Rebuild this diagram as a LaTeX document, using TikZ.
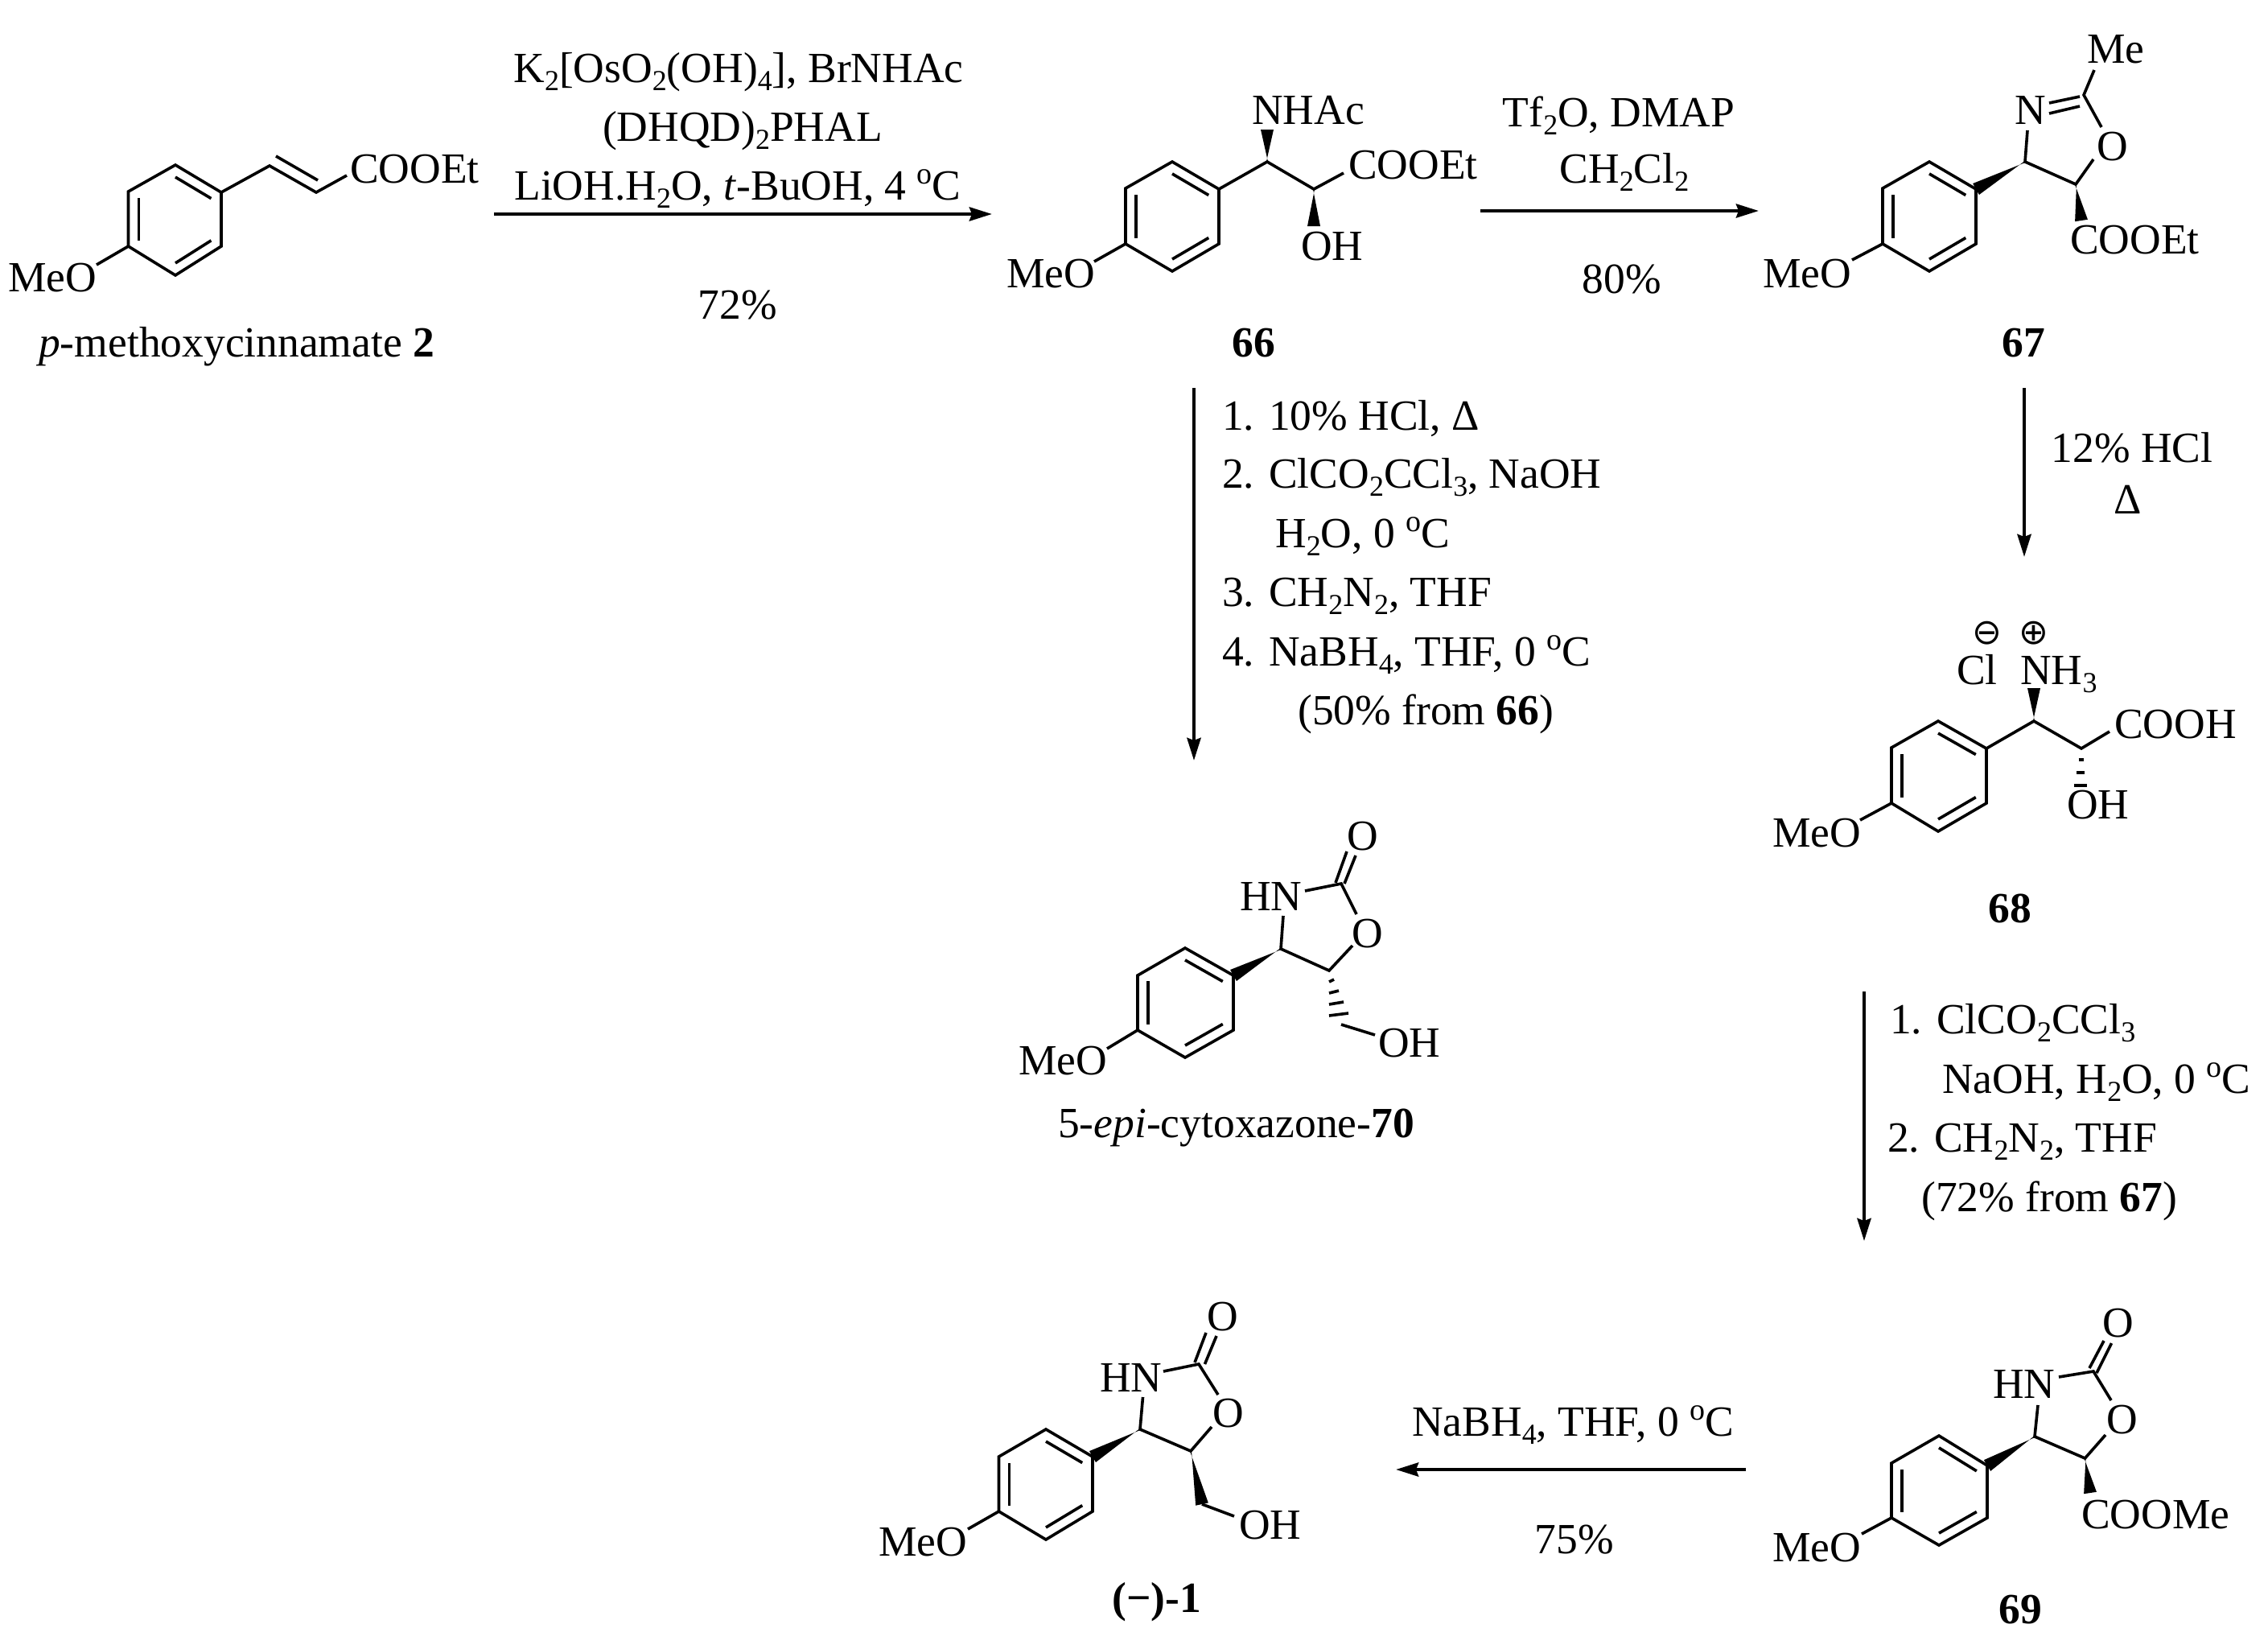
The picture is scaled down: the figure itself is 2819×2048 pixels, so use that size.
\documentclass[tikz,border=0pt]{standalone}
\usepackage{fontspec}
\setmainfont{Liberation Serif}
\newfontfamily\chargefont{DejaVu Sans}
\usetikzlibrary{arrows.meta,calc}
\newcommand{\chemsub}[1]{\raisebox{-0.2em}{\fontsize{36}{36}\selectfont #1}}
\newcommand{\degC}{\raisebox{0.36em}{\fontsize{38}{38}\selectfont o}C}
\newcommand{\arylring}[6]{%
  \coordinate (rc) at ($(#1)!.5!(#4)$);
  \draw[bond] (#1) -- (#2) -- (#3) -- (#4) -- (#5) -- (#6) -- cycle;
  \draw[bond] ($(#1)!.22!(rc)$) -- ($(#2)!.22!(rc)$);
  \draw[bond] ($(#3)!.22!(rc)$) -- ($(#4)!.22!(rc)$);
  \draw[bond] ($(#5)!.22!(rc)$) -- ($(#6)!.22!(rc)$);
}
\newcommand{\wedgebond}[2]{\fill ($(#1)!1pt!90:(#2)$) -- ($(#2)!8pt!90:(#1)$) -- ($(#2)!8pt!-90:(#1)$) -- ($(#1)!1pt!-90:(#2)$) -- cycle;}
\tikzset{
  bond/.style={line width=3.6pt, line join=miter},
  rxn/.style={line width=4.4pt, -{Stealth[length=28pt,width=17pt,inset=3pt]}},
  lab/.style={anchor=base west, inner sep=0pt, font=\fontsize{53.5}{62}\selectfont},
  cen/.style={anchor=base, inner sep=0pt, font=\fontsize{53.5}{62}\selectfont},
  charge/.style={anchor=center, inner sep=0pt, font=\chargefont\fontsize{44}{44}\selectfont}
}
\begin{document}
\begin{tikzpicture}[x=1pt, y=-1pt]
   \useasboundingbox (0,0) rectangle (2819,2048);

   % cinnamate 2
   \arylring{218,205}{275,239}{275,306}{218,342}{159.5,306}{159.5,238}
   \draw[bond] (275,239) -- (335,206) -- (393,239) -- (431,218);
   \draw[bond] (343,194) -- (395,224);
   \draw[bond] (159.5,306) -- (120,329);
   \node[lab] (m2coo) at (435,227) {COOEt};
   \node[lab] (m2meo) at (10,362) {MeO};
   \node[lab] (m2name) at (48,443) {\textit{p}-methoxycinnamate \textbf{2}};

   % first step
   \coordinate (r1s) at (614,266);
   \coordinate (r1e) at (1233,266);
   \draw[rxn] (r1s) -- (r1e);
   \node[cen] (r1a) at (918,102) {K\chemsub{2}[OsO\chemsub{2}(OH)\chemsub{4}], BrNHAc};
   \node[cen] (r1b) at (923,175) {(DHQD)\chemsub{2}PHAL};
   \node[cen] (r1c) at (917,248) {LiOH.H\chemsub{2}O, \textit{t}-BuOH, 4 \degC};
   \node[cen] (r1y) at (917,396) {72\%};

   % 66
   \arylring{1457,201}{1515,235}{1515,303}{1457,337}{1399,303}{1399,234}
   \draw[bond] (1515,235) -- (1575,201) -- (1633,235) -- (1670,215);
   \draw[bond] (1399,303) -- (1360,325);
   \wedgebond{1575,201}{1575,161}
   \wedgebond{1633,235}{1633,281}
   \node[lab] (m66n) at (1556,154) {NHAc};
   \node[lab] (m66coo) at (1676,222) {COOEt};
   \node[lab] (m66oh) at (1617,323) {OH};
   \node[lab] (m66meo) at (1251,357) {MeO};
   \node[cen] (m66name) at (1558,443) {\textbf{66}};

   % second step
   \coordinate (r2s) at (1840,262);
   \coordinate (r2e) at (2186,262);
   \draw[rxn] (r2s) -- (r2e);
   \node[cen] (r2a) at (2012,157) {Tf\chemsub{2}O, DMAP};
   \node[cen] (r2b) at (2019,227) {CH\chemsub{2}Cl\chemsub{2}};
   \node[cen] (r2y) at (2016,364) {80\%};

   % 67
   \arylring{2398,201}{2456,235}{2456,303}{2398,337}{2340,303}{2340,234}
   \wedgebond{2517,201}{2456,235}
   \draw[bond] (2520,162) -- (2517,201) -- (2580,229) -- (2602,198);
   \draw[bond] (2612,158) -- (2590,118) -- (2603,87);
   \draw[bond] (2585,120) -- (2547,128);
   \draw[bond] (2585,132) -- (2547,141);
   \draw[bond] (2340,303) -- (2302,323);
   \wedgebond{2580,229}{2587,274}
   \node[lab] (m67me) at (2594,78) {Me};
   \node[lab] (m67n) at (2504,154) {N};
   \node[lab] (m67o) at (2606,199) {O};
   \node[lab] (m67coo) at (2573,315) {COOEt};
   \node[lab] (m67meo) at (2191,357) {MeO};
   \node[cen] (m67name) at (2515,443) {\textbf{67}};

   % left column
   \coordinate (r3s) at (1484,482);
   \coordinate (r3e) at (1484,945);
   \draw[rxn] (r3s) -- (r3e);
   \node[lab] (r3a) at (1519,534) {1. 10\% HCl, Δ};
   \node[lab] (r3b) at (1519,606) {2. ClCO\chemsub{2}CCl\chemsub{3}, NaOH};
   \node[lab] (r3c) at (1585,680) {H\chemsub{2}O, 0 \degC};
   \node[lab] (r3d) at (1519,753) {3. CH\chemsub{2}N\chemsub{2}, THF};
   \node[lab] (r3f) at (1519,827) {4. NaBH\chemsub{4}, THF, 0 \degC};
   \node[lab] (r3y) at (1613,900) {(50\% from \textbf{66})};

   % 70
   \arylring{1473,1178}{1533,1212}{1533,1280}{1473,1314}{1414,1280}{1414,1212}
   \wedgebond{1592,1179}{1533,1212}
   \draw[bond] (1595,1138) -- (1592,1179) -- (1652,1206) -- (1681,1175);
   \draw[bond] (1686,1136) -- (1667,1098) -- (1622,1107);
   \draw[bond] (1660,1097) -- (1674,1058);
   \draw[bond] (1671,1098) -- (1685,1063);
   \draw[bond] (1667,1273) -- (1709,1286);
   \draw[bond] (1414,1280) -- (1376,1303);
   \foreach \t/\w in {.25/3, .5/6, .75/9, 1/12}
     \draw[line width=3.6pt] ($(1652,1206)!\t!(1664,1262)+(-\w,0)$) -- ($(1652,1206)!\t!(1664,1262)+(\w,-3)$);
   \node[lab] (m70o) at (1674,1056) {O};
   \node[lab] (m70n) at (1541,1131) {HN};
   \node[lab] (m70ro) at (1680,1177) {O};
   \node[lab] (m70oh) at (1713,1313) {OH};
   \node[lab] (m70meo) at (1266,1335) {MeO};
   \node[lab] (m70name) at (1315,1413) {5-\textit{epi}-cytoxazone-\textbf{70}};

   % right column
   \coordinate (r4s) at (2516,482);
   \coordinate (r4e) at (2516,692);
   \draw[rxn] (r4s) -- (r4e);
   \node[cen] (r4a) at (2650,574) {12\% HCl};
   \node[cen] (r4b) at (2645,638) {Δ};

   % 68
   \arylring{2409,896}{2469,930}{2469,998}{2409,1033}{2351,998}{2351,929}
   \draw[bond] (2469,930) -- (2528,896) -- (2587,930) -- (2622,909);
   \draw[bond] (2351,998) -- (2312,1019);
   \wedgebond{2528,896}{2528,855}
   \foreach \t/\w in {.3/3, .62/5, .95/8}
     \draw[line width=4pt] ($(2587,930)!\t!(2586,978)+(-\w,0)$) -- ($(2587,930)!\t!(2586,978)+(\w,0)$);
   \node[charge] (m68neg) at (2470,787) {⊖};
   \node[charge] (m68pos) at (2528,787) {⊕};
   \node[lab] (m68cl) at (2432,850) {Cl};
   \node[lab] (m68n) at (2511,850) {NH\chemsub{3}};
   \node[lab] (m68coo) at (2628,917) {COOH};
   \node[lab] (m68oh) at (2569,1017) {OH};
   \node[lab] (m68meo) at (2203,1052) {MeO};
   \node[cen] (m68name) at (2498,1146) {\textbf{68}};

   \coordinate (r5s) at (2317,1232);
   \coordinate (r5e) at (2317,1542);
   \draw[rxn] (r5s) -- (r5e);
   \node[lab] (r5a) at (2349,1284) {1. ClCO\chemsub{2}CCl\chemsub{3}};
   \node[lab] (r5b) at (2414,1358) {NaOH, H\chemsub{2}O, 0 \degC};
   \node[lab] (r5c) at (2346,1431) {2. CH\chemsub{2}N\chemsub{2}, THF};
   \node[lab] (r5y) at (2388,1505) {(72\% from \textbf{67})};

   % 69
   \arylring{2410,1784}{2470,1821}{2470,1886}{2410,1920}{2351,1886}{2351,1818}
   \wedgebond{2529,1785}{2470,1821}
   \draw[bond] (2533,1746) -- (2529,1785) -- (2591.5,1812) -- (2617,1783);
   \draw[bond] (2624,1740) -- (2602,1704) -- (2559,1711);
   \draw[bond] (2597,1700) -- (2615,1666);
   \draw[bond] (2606,1706) -- (2624.5,1669);
   \draw[bond] (2351,1886) -- (2314,1906);
   \wedgebond{2591.5,1812}{2598,1855}
   \node[lab] (m69o) at (2613,1661) {O};
   \node[lab] (m69n) at (2477,1737) {HN};
   \node[lab] (m69ro) at (2618,1781) {O};
   \node[lab] (m69coo) at (2587,1899) {COOMe};
   \node[lab] (m69meo) at (2203,1940) {MeO};
   \node[cen] (m69name) at (2511,2017) {\textbf{69}};

   % last step
   \coordinate (r6s) at (2170,1826);
   \coordinate (r6e) at (1735,1826);
   \draw[rxn] (r6s) -- (r6e);
   \node[cen] (r6a) at (1955,1784) {NaBH\chemsub{4}, THF, 0 \degC};
   \node[cen] (r6y) at (1957,1930) {75\%};

   % (-)-1
   \arylring{1300,1776}{1358,1810}{1358,1878}{1300,1913}{1241.5,1878}{1241.5,1810}
   \wedgebond{1417,1776}{1358,1810}
   \draw[bond] (1420.5,1736) -- (1417,1776) -- (1480,1803) -- (1506,1773);
   \draw[bond] (1514,1733) -- (1490,1695) -- (1446,1704);
   \draw[bond] (1485,1693) -- (1499,1656);
   \draw[bond] (1497.5,1695) -- (1512,1660);
   \draw[bond] (1494,1869) -- (1534,1884);
   \draw[bond] (1241.5,1878) -- (1203,1900);
   \wedgebond{1480,1803}{1494,1869}
   \node[lab] (m1o) at (1500,1653) {O};
   \node[lab] (m1n) at (1367,1729) {HN};
   \node[lab] (m1ro) at (1507.5,1773) {O};
   \node[lab] (m1oh) at (1540,1912) {OH};
   \node[lab] (m1meo) at (1092,1933) {MeO};
   \node[lab] (m1name) at (1382,2003) {\textbf{(−)-1}};
\end{tikzpicture}
\end{document}
